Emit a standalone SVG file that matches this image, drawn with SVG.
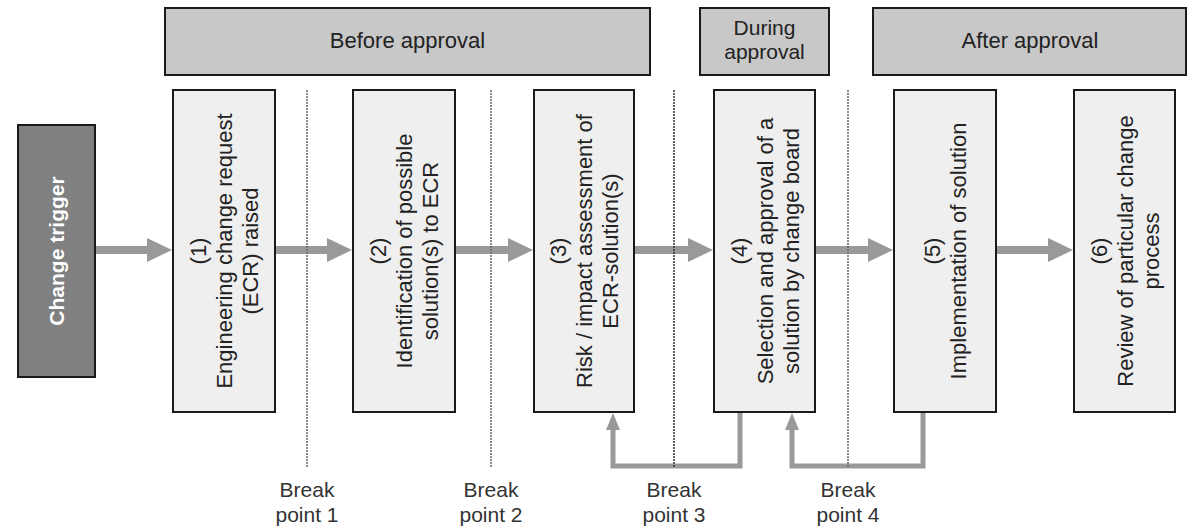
<svg xmlns="http://www.w3.org/2000/svg" width="1188" height="529" viewBox="0 0 1188 529">
<style>
.hdr{fill:#c8c8c8;stroke:#1a1a1a;stroke-width:2}
.box{fill:#efefef;stroke:#1a1a1a;stroke-width:2}
.trig{fill:#808080;stroke:#1a1a1a;stroke-width:2}
.t{font-family:"Liberation Sans",Arial,sans-serif;font-size:22px;fill:#222;text-anchor:middle}
.t2{font-family:"Liberation Sans",Arial,sans-serif;font-size:21px;fill:#222;text-anchor:middle}
.tw{font-family:"Liberation Sans",Arial,sans-serif;font-size:21px;font-weight:bold;fill:#fff;text-anchor:middle}
.bp{font-family:"Liberation Sans",Arial,sans-serif;font-size:21px;fill:#333;text-anchor:middle}
.main{stroke:#999;stroke-width:8;fill:none}
.fb{stroke:#999;stroke-width:5;fill:none;stroke-linejoin:miter}
.sep{stroke:#666;stroke-width:1.5;stroke-dasharray:2 1}
</style>
<defs>
<marker id="bigHead" markerUnits="userSpaceOnUse" markerWidth="25" markerHeight="24" refX="0" refY="12" orient="auto" overflow="visible">
<path d="M0,0 L25,12 L0,24 z" fill="#999"/>
</marker>
<marker id="smallHead" markerUnits="userSpaceOnUse" markerWidth="17" markerHeight="14" refX="0" refY="7" orient="auto" overflow="visible">
<path d="M0,0 L17,7 L0,14 z" fill="#999"/>
</marker>
</defs>
<rect width="1188" height="529" fill="#fff"/>

<g id="phase-before">
<rect class="hdr" x="165" y="8" width="485" height="67"/>
<text class="t" x="407.5" y="48">Before approval</text>
</g>
<g id="phase-during">
<rect class="hdr" x="700" y="8" width="129" height="67"/>
<text class="t2" x="764.5" y="35">During</text>
<text class="t2" x="764.5" y="59">approval</text>
</g>
<g id="phase-after">
<rect class="hdr" x="873" y="8" width="313" height="67"/>
<text class="t" x="1030" y="48">After approval</text>
</g>

<g id="connectors">
<line class="main" x1="95" y1="250" x2="147" y2="250" marker-end="url(#bigHead)"/>
<line class="main" x1="275" y1="250" x2="327" y2="250" marker-end="url(#bigHead)"/>
<line class="main" x1="455" y1="250" x2="508" y2="250" marker-end="url(#bigHead)"/>
<line class="main" x1="634" y1="250" x2="688" y2="250" marker-end="url(#bigHead)"/>
<line class="main" x1="815" y1="250" x2="868" y2="250" marker-end="url(#bigHead)"/>
<line class="main" x1="996" y1="250" x2="1048" y2="250" marker-end="url(#bigHead)"/>
<path class="fb" d="M740,413 V466 H613 V430" marker-end="url(#smallHead)"/>
<path class="fb" d="M923,413 V466 H792 V430" marker-end="url(#smallHead)"/>
</g>

<g id="trigger">
<rect class="trig" x="18" y="125" width="77" height="252"/>
<text class="tw" transform="translate(56.5,251) rotate(-90)" x="0" y="7.5">Change trigger</text>
</g>

<g id="step1">
<rect class="box" x="173" y="90" width="102" height="322"/>
<g transform="translate(224,251) rotate(-90)">
<text class="t" x="0" y="-18">(1)</text>
<text class="t" x="0" y="8">Engineering change request</text>
<text class="t" x="0" y="34">(ECR) raised</text>
</g>
</g>
<g id="step2">
<rect class="box" x="353" y="90" width="102" height="322"/>
<g transform="translate(404,251) rotate(-90)">
<text class="t" x="0" y="-18">(2)</text>
<text class="t" x="0" y="8">Identification of possible</text>
<text class="t" x="0" y="34">solution(s) to ECR</text>
</g>
</g>
<g id="step3">
<rect class="box" x="534" y="90" width="100" height="322"/>
<g transform="translate(584,251) rotate(-90)">
<text class="t" x="0" y="-18">(3)</text>
<text class="t" x="0" y="8">Risk / impact assessment of</text>
<text class="t" x="0" y="34">ECR-solution(s)</text>
</g>
</g>
<g id="step4">
<rect class="box" x="714" y="90" width="101" height="322"/>
<g transform="translate(764.5,251) rotate(-90)">
<text class="t" x="0" y="-18">(4)</text>
<text class="t" x="0" y="8">Selection and approval of a</text>
<text class="t" x="0" y="34">solution by change board</text>
</g>
</g>
<g id="step5">
<rect class="box" x="894" y="90" width="102" height="322"/>
<g transform="translate(945,251) rotate(-90)">
<text class="t" x="0" y="-5">(5)</text>
<text class="t" x="0" y="21">Implementation of solution</text>
</g>
</g>
<g id="step6">
<rect class="box" x="1074" y="90" width="101" height="322"/>
<g transform="translate(1124.5,251) rotate(-90)">
<text class="t" x="0" y="-18">(6)</text>
<text class="t" x="0" y="8">Review of particular change</text>
<text class="t" x="0" y="34">process</text>
</g>
</g>

<g id="breakpoints">
<line class="sep" x1="307" y1="90" x2="307" y2="467"/>
<line class="sep" x1="491" y1="90" x2="491" y2="467"/>
<line class="sep" x1="674" y1="90" x2="674" y2="467" style="stroke:#333"/>
<line class="sep" x1="848" y1="90" x2="848" y2="467"/>
<text class="bp" x="307" y="497">Break</text>
<text class="bp" x="307" y="522">point 1</text>
<text class="bp" x="491" y="497">Break</text>
<text class="bp" x="491" y="522">point 2</text>
<text class="bp" x="674" y="497">Break</text>
<text class="bp" x="674" y="522">point 3</text>
<text class="bp" x="848" y="497">Break</text>
<text class="bp" x="848" y="522">point 4</text>
</g>
</svg>
